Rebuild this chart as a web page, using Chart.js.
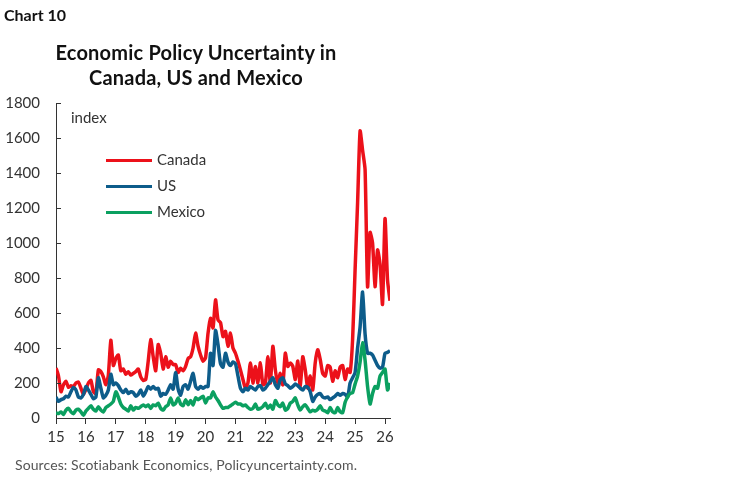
<!DOCTYPE html>
<html lang="en">
<head>
<meta charset="UTF-8">
<title>Economic Policy Uncertainty in Canada, US and Mexico</title>
<script src="https://cdn.jsdelivr.net/npm/chart.js@4"></script>
<style>
  body { margin: 0; background: #fff; font-family: Lato, 'Noto Sans', sans-serif; }
  #wrap { position: relative; width: 749px; height: 493px; }
  #chart { position: absolute; left: 0; top: 0; }
  .txt { position: absolute; white-space: nowrap; color: #111; }
  #tag { left: 4px; top: 5px; font-size: 16px; font-weight: bold; }
  #title { left: 0; width: 392px; top: 40px; text-align: center; font-size: 20px; font-weight: bold; line-height: 25px; letter-spacing: 0.2px; }
  #unit { left: 71px; top: 108px; font-size: 15px; color: #333; }
  .leg { left: 106px; font-size: 15px; color: #333; }
  .leg span { display: inline-block; width: 46px; height: 3px; vertical-align: middle; margin-right: 5px; position: relative; top: -1px; }
  #src { left: 15px; top: 456px; font-size: 14px; color: #555; letter-spacing: 0.1px; }
</style>
</head>
<body>
<div id="wrap">
  <canvas id="chart" width="749" height="493"></canvas>
  <div class="txt" id="tag">Chart 10</div>
  <div class="txt" id="title">Economic Policy Uncertainty in<br>Canada, US and Mexico</div>
  <div class="txt" id="unit">index</div>
  <div class="txt leg" style="top:150px"><span style="background:#EC111A"></span>Canada</div>
  <div class="txt leg" style="top:176px"><span style="background:#0D5C8A"></span>US</div>
  <div class="txt leg" style="top:202px"><span style="background:#0BA060"></span>Mexico</div>
  <div class="txt" id="src">Sources: Scotiabank Economics, Policyuncertainty.com.</div>
</div>

<script>
// monthly, Jan 2015 .. Mar 2026
const years = ['15', '16', '17', '18', '19', '20', '21', '22', '23', '24', '25', '26'];

const canada = [
  286, 240, 150, 190, 210, 175, 185, 180, 200, 205, 170, 135,
  165, 200, 215, 150, 140, 275, 265, 235, 190, 245, 444, 300,
  340, 360, 270, 280, 250, 265, 245, 255, 265, 280, 235, 215,
  220, 325, 448, 350, 270, 420, 370, 280, 350, 290, 325, 305,
  305, 260, 285, 270, 295, 340, 350, 400, 485, 410, 360, 325,
  345, 485, 570, 515, 675, 560, 545, 465, 495, 410, 485, 400,
  370, 325, 275, 220, 170, 200, 315, 200, 295, 200, 315, 190,
  200, 350, 200, 410, 275, 200, 255, 190, 370, 295, 315, 295,
  220, 325, 180, 350, 275, 170, 240, 160, 315, 390, 335, 255,
  240, 300, 290, 210, 270, 230, 290, 300, 220, 280, 260, 450,
  850, 1230, 1640, 1530, 1420, 750, 1060, 1000, 750, 960, 880, 650,
  1140, 790, 670
];

const us = [
  120, 95, 105, 110, 125, 120, 150, 175, 160, 120, 115, 135,
  180, 160, 135, 110, 120, 230, 170, 115, 130, 160, 250, 190,
  200, 185, 160, 145, 165, 140, 150, 145, 125, 135, 160, 125,
  150, 180, 165, 180, 165, 170, 125, 140, 135, 160, 190, 165,
  260, 165, 130, 180, 190, 165, 210, 255, 180, 165, 180, 170,
  180, 180, 370, 300, 500, 420, 310, 290, 370, 320, 300, 320,
  310, 240, 170, 150, 170, 160, 180, 170, 160, 180, 185, 160,
  170, 190, 210, 230, 190, 170, 220, 230, 195, 185, 170, 180,
  195, 185, 170, 160, 180, 175, 150, 95, 120, 135, 140, 120,
  115, 120, 105, 115, 125, 140, 130, 140, 135, 120, 200, 230,
  260, 400, 520, 720, 480, 370, 370, 360, 330, 300, 285, 290,
  370, 375, 385
];

const mexico = [
  30, 25, 35, 20, 45, 55, 35, 25, 45, 50, 35, 15,
  40, 55, 70, 50, 40, 65, 45, 35, 60, 70, 80, 95,
  150, 120, 80, 60, 50, 40, 70, 45, 60, 55, 65, 75,
  65, 75, 55, 75, 70, 85, 55, 45, 65, 75, 115, 75,
  85, 115, 80, 70, 105, 75, 100, 75, 115, 105, 115, 125,
  85, 115, 115, 150, 120, 100, 75, 55, 60, 60, 70, 80,
  90, 80, 80, 70, 75, 60, 50, 55, 80, 50, 55, 65,
  85, 55, 75, 50, 100, 75, 65, 85, 45, 55, 85, 95,
  115, 75, 45, 65, 75, 55, 35, 45, 40, 50, 70, 45,
  40, 30, 60, 35, 30, 60, 35, 30, 90, 120, 140, 145,
  195, 240, 320, 430, 330, 180, 80, 140, 180, 170, 240, 260,
  280, 160, 200
];

const toPts = arr => arr.map((v, i) => ({ x: i, y: v }));

// small inward tick marks on the y axis
const innerTicks = {
  id: 'innerTicks',
  afterDraw(chart) {
    const y = chart.scales.y, ctx = chart.ctx, left = chart.chartArea.left;
    ctx.save();
    ctx.strokeStyle = '#333';
    ctx.lineWidth = 1;
    y.ticks.forEach(t => {
      const py = Math.round(y.getPixelForValue(t.value)) + 0.5;
      ctx.beginPath();
      ctx.moveTo(left, py);
      ctx.lineTo(left + 5, py);
      ctx.stroke();
    });
    ctx.restore();
  }
};

Chart.defaults.font.family = "Lato, 'Noto Sans', sans-serif";
Chart.defaults.color = '#333';

new Chart(document.getElementById('chart'), {
  type: 'line',
  data: {
    datasets: [
      { label: 'Canada', data: toPts(canada), borderColor: '#EC111A', order: 2 },
      { label: 'US', data: toPts(us), borderColor: '#0D5C8A', order: 1 },
      { label: 'Mexico', data: toPts(mexico), borderColor: '#0BA060', order: 0 }
    ]
  },
  options: {
    responsive: false,
    animation: false,
    layout: { padding: { left: 0, right: 359, top: 103, bottom: 0 } },
    elements: {
      point: { radius: 0 },
      line: { borderWidth: 3.5, tension: 0.2, fill: false }
    },
    plugins: { legend: { display: false }, tooltip: { enabled: false } },
    scales: {
      x: {
        type: 'linear',
        min: 0,
        max: canada.length - 1,
        afterBuildTicks: s => { s.ticks = years.map((y, k) => ({ value: k * 12 })); },
        afterFit: s => { s.height = 75; },
        ticks: {
          font: { size: 15 },
          padding: 4,
          maxRotation: 0,
          callback: v => years[v / 12]
        },
        grid: { drawOnChartArea: false, drawTicks: true, tickLength: 6, color: '#333' },
        border: { color: '#333', width: 1 }
      },
      y: {
        min: 0,
        max: 1800,
        afterFit: s => { s.width = 56; },
        ticks: { stepSize: 200, font: { size: 15 }, padding: 16, callback: v => String(v) },
        grid: { drawOnChartArea: false, drawTicks: false },
        border: { color: '#333', width: 1 }
      }
    }
  },
  plugins: [innerTicks]
});
</script>
</body>
</html>
